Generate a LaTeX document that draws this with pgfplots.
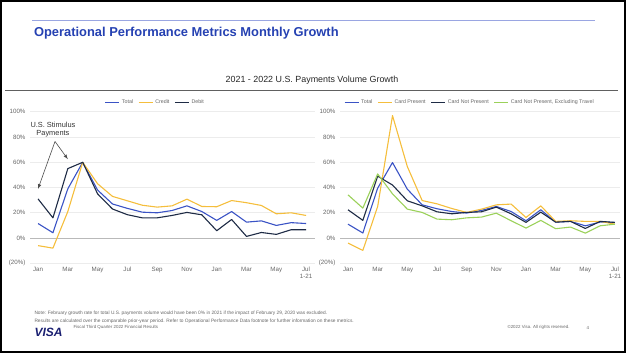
\documentclass[border=0pt]{standalone}
\usepackage{pgfplots}
\pgfplotsset{compat=1.18}
\usepackage{fontspec}
\setmainfont{Liberation Sans}
\definecolor{titleblue}{HTML}{2541B2}
\definecolor{lineblue}{HTML}{9AA6E2}
\definecolor{cTotal}{HTML}{3A53C5}
\definecolor{cYellow}{HTML}{F5BE3C}
\definecolor{cDark}{HTML}{1E2B45}
\definecolor{cGreen}{HTML}{9BD15A}
\definecolor{visanavy}{HTML}{1A1F71}
\definecolor{txtgray}{HTML}{666666}

\pgfplotstableread{
idx total credit debit
0 11.5 -6 31
1 4.2 -8 16
2 39 21 55
3 60 60 60
4 38 43 35
5 27 33 23
6 23.5 29.5 18.5
7 20.5 26 16
8 20 24.5 16
9 21.8 25.5 17.9
10 25.5 30.8 20.3
11 21 25 18.4
12 14 24.8 5.8
13 21 29.7 14.7
14 12.6 28 1.3
15 13.6 25.8 4.4
16 10 19.2 2.9
17 12.2 20 6.6
18 11.5 17.9 6.6
}\lefttab

\pgfplotstableread{
idx total cp cnp cnpx
0 11 -4 22.4 34.2
1 4 -9.8 14 23.7
2 39.5 25 49 50.8
3 59.8 97 42 35
4 38.7 56.6 29.5 22.9
5 26.3 29.7 25.5 20.3
6 23.2 27.1 20.8 15
7 21 23.4 19.2 14.5
8 19.8 20.3 20.3 16
9 21.9 22.9 20.8 16.6
10 25 26.3 24.5 19.7
11 21 26.9 19.2 13.7
12 13.7 16.3 12.4 7.9
13 22.4 25.5 20.5 14
14 12.6 13.2 12.6 7.4
15 13.2 13.7 13.2 8.7
16 9.7 13.2 7.6 3.9
17 12.6 13.2 13.2 9.7
18 12.4 11 12.4 11
}\righttab

\pgfplotsset{
  vchart/.style={
    scale only axis,
    anchor=south west,
    height=151.5pt,
    ymin=-20, ymax=100,
    axis line style={draw=none},
    major tick length=0pt,
    ymajorgrids,
    grid style={gray!15, line width=0.6pt},
    ytick={-20,20,40,60,80,100},
    yticklabels={(20\%),20\%,40\%,60\%,80\%,100\%},
    extra y ticks={0},
    extra y tick labels={0\%},
    extra y tick style={grid style={gray!55, line width=0.7pt}},
    xtick={0,2,...,18},
    xticklabels={\strut Jan,\strut Mar,\strut May,\strut Jul,\strut Sep,\strut Nov,\strut Jan,\strut Mar,\strut May,{\strut Jul\\1-21}},
    tick label style={font=\fontsize{6.2}{7}\selectfont, text=txtgray},
    xticklabel style={align=center, yshift=0pt},
    yticklabel style={xshift=-1pt},
    legend style={draw=none, fill=none, font=\fontsize{5.3}{6}\selectfont, text=txtgray,
      legend columns=-1, anchor=center,
      /tikz/every even column/.append style={column sep=3pt}},
    legend image code/.code={\draw[#1] (0pt,0pt) -- (14pt,0pt);},
    every axis plot/.append style={line width=1.1pt, mark=none, line join=round},
    clip=false,
  }
}

\begin{document}
\begin{tikzpicture}[x=1pt,y=1pt]
\path[use as bounding box] (0,0) rectangle (626,353);
\draw[black, line width=1.6pt] (0.8,0.8) rectangle (625.2,352.2);

% header
\draw[lineblue, line width=1pt] (32,332.3) -- (595,332.3);
\node[anchor=west, text=titleblue, font=\bfseries\fontsize{12.9}{14}\selectfont] at (30.5,319.5) {Operational Performance Metrics Monthly Growth};
\node[font=\fontsize{8.9}{10}\selectfont, text=black!85] at (312,272.5) {2021 - 2022 U.S. Payments Volume Growth};
\draw[gray!75!black, line width=1pt] (5,262) -- (618,262);

% left chart
\begin{axis}[vchart, at={(30pt,89.7pt)}, width=285pt, xmin=-0.54, xmax=18.6,
  legend style={at={(0.44,1.06)}}]
\addplot[cTotal] table[x=idx,y=total] {\lefttab};
\addplot[cYellow] table[x=idx,y=credit] {\lefttab};
\addplot[cDark] table[x=idx,y=debit] {\lefttab};
\legend{Total,Credit,Debit}
\node[align=center, font=\fontsize{7.4}{8.5}\selectfont, text=black!80] at (axis cs:1.0,86) {U.S. Stimulus\\Payments};
\draw[-latex, black!70, line width=0.6pt] (axis cs:1.14,76.5) -- (axis cs:0,39);
\draw[-latex, black!70, line width=0.6pt] (axis cs:1.14,76.5) -- (axis cs:2.0,62.5);
\end{axis}

% right chart
\begin{axis}[vchart, at={(340pt,89.7pt)}, width=280pt, xmin=-0.54, xmax=18.34,
  legend style={at={(0.464,1.06)}}]
\addplot[cTotal] table[x=idx,y=total] {\righttab};
\addplot[cYellow] table[x=idx,y=cp] {\righttab};
\addplot[cDark] table[x=idx,y=cnp] {\righttab};
\addplot[cGreen] table[x=idx,y=cnpx] {\righttab};
\legend{Total,Card Present,Card Not Present,{Card Not Present, Excluding Travel}}
\end{axis}

% footer
\node[anchor=west, align=left, text=txtgray, font=\fontsize{4.8}{7.6}\selectfont] at (31,36) {Note: February growth rate for total U.S. payments volume would have been 0\% in 2021 if the impact of February 29, 2020 was excluded.\\Results are calculated over the comparable prior-year period. Refer to Operational Performance Data footnote for further information on these metrics.};
\node[anchor=west, text=visanavy, font=\bfseries\itshape\fontsize{12}{12}\selectfont] at (31,21) {VISA};
\node[anchor=west, text=txtgray, font=\fontsize{4.4}{5}\selectfont] at (70,25.5) {Fiscal Third Quarter 2022 Financial Results};
\node[anchor=west, text=txtgray, font=\fontsize{4.4}{5}\selectfont] at (504,25.5) {\textcopyright2022 Visa. All rights reserved.};
\node[anchor=west, text=txtgray, font=\fontsize{4.4}{5}\selectfont] at (583,25.5) {4};
\end{tikzpicture}
\end{document}
